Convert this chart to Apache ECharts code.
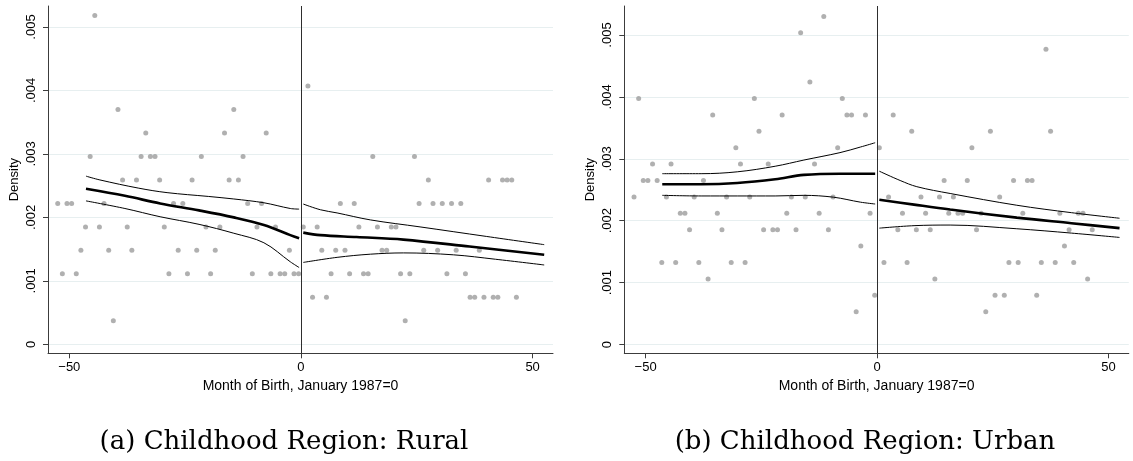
<!DOCTYPE html>
<html>
<head>
<meta charset="utf-8">
<script src="https://cdn.jsdelivr.net/npm/echarts@6/dist/echarts.min.js"></script>
<style>
html,body{margin:0;padding:0;background:#fff;}
#chart{width:1133px;height:461px;}
</style>
</head>
<body>
<div id="chart"></div>
<script>
// ---------- DATA ----------
const monthsBefore = [-52.5,-51.5,-50.5,-49.5,-48.5,-47.5,-46.5,-45.5,-44.5,-43.5,-42.5,-41.5,-40.5,-39.5,-38.5,-37.5,-36.5,-35.5,-34.5,-33.5,-32.5,-31.5,-30.5,-29.5,-28.5,-27.5,-26.5,-25.5,-24.5,-23.5,-22.5,-21.5,-20.5,-19.5,-18.5,-17.5,-16.5,-15.5,-14.5,-13.5,-12.5,-11.5,-10.5,-9.5,-8.5,-7.5,-6.5,-5.5,-4.5,-3.5,-2.5,-1.5,-0.5];
const monthsAfter = [0.5,1.5,2.5,3.5,4.5,5.5,6.5,7.5,8.5,9.5,10.5,11.5,12.5,13.5,14.5,15.5,16.5,17.5,18.5,19.5,20.5,21.5,22.5,23.5,24.5,25.5,26.5,27.5,28.5,29.5,30.5,31.5,32.5,33.5,34.5,35.5,36.5,37.5,38.5,39.5,40.5,41.5,42.5,43.5,44.5,45.5,46.5];

// Rural density per month
const ruralBefore = [0.00222,0.00111,0.00222,0.00222,0.00111,0.00148,0.00185,0.00296,0.00518,0.00185,0.00222,0.00148,0.00037,0.0037,0.00259,0.00185,0.00148,0.00259,0.00296,0.00333,0.00296,0.00296,0.00259,0.00185,0.00111,0.00222,0.00148,0.00222,0.00111,0.00259,0.00148,0.00296,0.00185,0.00111,0.00148,0.00185,0.00333,0.00259,0.0037,0.00259,0.00296,0.00222,0.00111,0.00185,0.00222,0.00333,0.00111,0.00185,0.00111,0.00111,0.00148,0.00111,0.00111];
const ruralAfter = [0.00185,0.00407,0.00074,0.00185,0.00148,0.00074,0.00111,0.00148,0.00222,0.00148,0.00111,0.00222,0.00185,0.00111,0.00111,0.00296,0.00185,0.00148,0.00148,0.00185,0.00185,0.00111,0.00037,0.00111,0.00296,0.00222,0.00148,0.00259,0.00222,0.00148,0.00222,0.00111,0.00222,0.00148,0.00222,0.00111,0.00074,0.00074,0.00148,0.00074,0.00259,0.00074,0.00074,0.00259,0.00259,0.00259,0.00074];

// Urban density per month
const urbanBefore = [0.002385,0.003975,0.00265,0.00265,0.002915,0.00265,0.001325,0.002385,0.002915,0.001325,0.00212,0.00212,0.001855,0.002385,0.001325,0.00265,0.00106,0.00371,0.00212,0.001855,0.002385,0.001325,0.00318,0.002915,0.001325,0.002385,0.003975,0.003445,0.001855,0.002915,0.001855,0.001855,0.00371,0.00212,0.002385,0.001855,0.005035,0.002385,0.00424,0.002915,0.00212,0.0053,0.001855,0.002385,0.00318,0.003975,0.00371,0.00371,0.00053,0.00159,0.00371,0.00212,0.000795];
const urbanAfter = [0.00318,0.001325,0.002385,0.00371,0.001855,0.00212,0.001325,0.003445,0.001855,0.002385,0.00212,0.001855,0.00106,0.002385,0.00265,0.00212,0.002385,0.00212,0.00212,0.00265,0.00318,0.001855,0.00212,0.00053,0.003445,0.000795,0.002385,0.000795,0.001325,0.00265,0.001325,0.00212,0.00265,0.00265,0.000795,0.001325,0.00477,0.003445,0.001325,0.00212,0.00159,0.001855,0.001325,0.00212,0.00212,0.00106,0.001855];

// Fitted local polynomial and confidence bands [month, density]
const ruralFitBefore   = [[-46.4,0.00245],[-38,0.00234],[-30.4,0.00222],[-22,0.00211],[-14.5,0.00200],[-8,0.00188],[-2.3,0.00172],[-0.4,0.00167]];
const ruralUpperBefore = [[-46.4,0.00265],[-43.4,0.00259],[-35,0.00246],[-28.9,0.00239],[-20,0.00233],[-14.5,0.00229],[-8,0.00223],[-2.3,0.00214],[-0.4,0.00213]];
const ruralLowerBefore = [[-46.4,0.00226],[-38,0.00214],[-30.4,0.00201],[-22,0.00189],[-14.5,0.00175],[-8,0.00160],[-2.3,0.00130],[-0.4,0.00121]];
const ruralFitAfter    = [[0.5,0.00176],[4.2,0.00172],[12,0.00169],[22.1,0.00165],[36.4,0.00154],[52.5,0.00141]];
const ruralUpperAfter  = [[0.5,0.00221],[4.2,0.00212],[7.8,0.00207],[15,0.00196],[25.7,0.00185],[40,0.00170],[52.5,0.00157]];
const ruralLowerAfter  = [[0.5,0.00129],[7.8,0.00137],[15,0.00142],[22.1,0.00144],[32.9,0.00141],[42,0.00134],[52.5,0.00125]];

const urbanFitBefore   = [[-46.4,0.00259],[-38,0.00259],[-30.2,0.00261],[-22,0.00267],[-15.8,0.00274],[-8,0.00276],[-3.6,0.00276],[-0.4,0.00276]];
const urbanUpperBefore = [[-46.4,0.00276],[-38,0.00276],[-30.2,0.00279],[-22,0.00288],[-15.8,0.00298],[-8,0.00310],[-3.6,0.00319],[-0.4,0.00326]];
const urbanLowerBefore = [[-46.4,0.00241],[-38,0.00240],[-30.2,0.00240],[-22,0.00240],[-15.8,0.00241],[-9.4,0.00238],[-3.6,0.00230],[-0.4,0.00227]];
const urbanFitAfter    = [[0.5,0.00234],[8,0.00226],[15.8,0.00218],[30.2,0.00205],[42,0.00196],[52.4,0.00188]];
const urbanUpperAfter  = [[0.5,0.00280],[5,0.00265],[8.6,0.00255],[15.8,0.00244],[30.2,0.00225],[42,0.00213],[52.4,0.00204]];
const urbanLowerAfter  = [[0.5,0.00188],[8,0.00192],[15.8,0.00193],[30.2,0.00187],[42,0.00180],[52.4,0.00173]];

// Axis ticks and labels
const xTickValues = [-50, 0, 50];
const xTickLabels = ['\u221250', '0', '50'];
const yTickValues = [0, 0.001, 0.002, 0.003, 0.004, 0.005];
const yTickLabels = ['0', '.001', '.002', '.003', '.004', '.005'];
const xTitle = 'Month of Birth, January 1987=0';
const yTitle = 'Density';
const captions = ['(a) Childhood Region: Rural', '(b) Childhood Region: Urban'];

// ---------- CHART ----------
const sans = 'Liberation Sans, Arial, sans-serif';
const axisColor = '#3c3c3c';
const gridColor = '#e7eff0';
const dotColor = '#9c9c9c';

function labelFor(values, labels) {
  return function (v) {
    for (let i = 0; i < values.length; i++) {
      if (Math.abs(v - values[i]) < 1e-9) return labels[i];
    }
    return '';
  };
}
function pairs(xs, ys) { return xs.map((x, i) => [x, ys[i]]); }

function makeX(idx) {
  return {
    type: 'value', gridIndex: idx, min: -54.6, max: 54.4,
    name: xTitle, nameLocation: 'middle', nameGap: 23,
    nameTextStyle: { fontFamily: sans, fontSize: 14, color: '#000' },
    axisLine: { show: true, onZero: false, lineStyle: { color: axisColor, width: 1 } },
    axisTick: { show: true, length: 5, customValues: xTickValues, lineStyle: { color: axisColor } },
    axisLabel: { show: true, customValues: xTickValues, margin: 8, fontFamily: sans, fontSize: 13, color: '#000',
                 formatter: labelFor(xTickValues, xTickLabels) },
    splitLine: { show: false }
  };
}
function makeY(idx, max) {
  return {
    type: 'value', gridIndex: idx, min: -0.000142, max: max,
    name: yTitle, nameLocation: 'middle', nameGap: 27, nameRotate: 90,
    nameTextStyle: { fontFamily: sans, fontSize: 13, color: '#000' },
    axisLine: { show: true, onZero: false, lineStyle: { color: axisColor, width: 1 } },
    axisTick: { show: true, length: 5, customValues: yTickValues, lineStyle: { color: axisColor } },
    axisLabel: { show: true, rotate: 90, customValues: yTickValues, margin: 10, fontFamily: sans, fontSize: 13, color: '#000',
                 formatter: labelFor(yTickValues, yTickLabels) },
    splitLine: { show: true, lineStyle: { color: gridColor, width: 1 } }
  };
}
function lineSeries(idx, data, w) {
  return { type: 'line', xAxisIndex: idx, yAxisIndex: idx, data: data, smooth: 0.35, showSymbol: false,
           symbol: 'none', silent: true, z: 4, lineStyle: { color: '#000', width: w } };
}
function panelSeries(idx, before, after, fits) {
  const s = [{
    type: 'scatter', xAxisIndex: idx, yAxisIndex: idx,
    data: pairs(monthsBefore, before).concat(pairs(monthsAfter, after)),
    symbol: 'circle', symbolSize: 5, itemStyle: { color: dotColor }, z: 2, silent: true,
    markLine: { symbol: 'none', silent: true, label: { show: false }, animation: false,
                lineStyle: { color: '#2e2e2e', width: 1, type: 'solid' }, data: [{ xAxis: 0 }] }
  }];
  s.push(lineSeries(idx, fits[0], 1));
  s.push(lineSeries(idx, fits[1], 2.6));
  s.push(lineSeries(idx, fits[2], 1));
  s.push(lineSeries(idx, fits[3], 1));
  s.push(lineSeries(idx, fits[4], 2.6));
  s.push(lineSeries(idx, fits[5], 1));
  return s;
}

const chart = echarts.init(document.getElementById('chart'), null, { renderer: 'canvas' });
chart.setOption({
  animation: false,
  backgroundColor: '#fff',
  grid: [
    { left: 48, top: 6, width: 505, height: 347.3, containLabel: false },
    { left: 624.3, top: 6, width: 504.5, height: 347.3, containLabel: false }
  ],
  xAxis: [makeX(0), makeX(1)],
  yAxis: [makeY(0, 0.005331), makeY(1, 0.005469)],
  series: [].concat(
    panelSeries(0, ruralBefore, ruralAfter,
      [ruralUpperBefore, ruralFitBefore, ruralLowerBefore, ruralUpperAfter, ruralFitAfter, ruralLowerAfter]),
    panelSeries(1, urbanBefore, urbanAfter,
      [urbanUpperBefore, urbanFitBefore, urbanLowerBefore, urbanUpperAfter, urbanFitAfter, urbanLowerAfter])
  ),
  graphic: [
    { type: 'text', x: 284, y: 442, style: { text: captions[0], font: '26px "DejaVu Serif"', fill: '#000', textAlign: 'center', textVerticalAlign: 'middle' } },
    { type: 'text', x: 865, y: 442, style: { text: captions[1], font: '26px "DejaVu Serif"', fill: '#000', textAlign: 'center', textVerticalAlign: 'middle' } }
  ]
});
</script>
</body>
</html>
